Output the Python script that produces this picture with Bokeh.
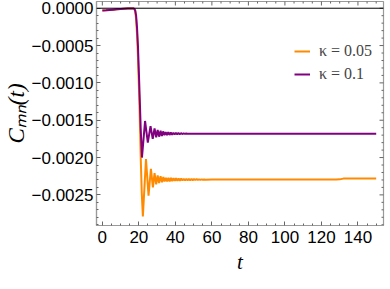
import math
from bokeh.plotting import figure
from bokeh.models import Legend, LegendItem, Span, FixedTicker, Range1d
from bokeh.embed import file_html
from bokeh.resources import INLINE

# kappa = 0.05 (orange)
t_a = [0, 2, 4, 6, 8, 10, 12, 14, 16, 17, 17.5, 18, 18.5, 19, 19.5, 20, 20.5, 21, 21.6, 22.2,
       23.9, 25.3, 26.6, 27.7, 28.6, 29.5, 30.3, 31.1, 31.9, 32.7, 33.4, 34.1, 34.8, 35.5, 36.2,
       36.9, 37.6, 38.3, 39.0, 39.7, 40.4, 41.1, 41.8, 42.5, 43.2, 43.9, 44.6, 45.3, 46.0, 46.7,
       47.4, 48.1, 48.8, 49.5, 50.2, 50.9, 51.6, 52.3, 53.0, 53.7, 54.4, 55.1, 55.8, 56.5,
       60, 128, 130, 132, 135, 150]
c_a = [-0.000030, -0.000027, -0.000023, -0.000019, -0.000015, -0.000011, -0.000008, -0.000005,
       -0.000003, -0.000003, -0.000010, -0.000040, -0.00015, -0.00035, -0.00065, -0.00103,
       -0.00148, -0.00198, -0.00248, -0.00279,
       -0.00202, -0.00251, -0.00215, -0.00240, -0.00221, -0.00236, -0.00224, -0.00234, -0.00225,
       -0.00233, -0.00226, -0.00232, -0.00227, -0.00232, -0.00227,
       -0.002320, -0.002272, -0.002316, -0.002275, -0.002313, -0.002278, -0.002311, -0.002280,
       -0.002309, -0.002282, -0.002307, -0.002284, -0.002305, -0.002286, -0.002304, -0.002287,
       -0.002303, -0.002288, -0.002302, -0.002289, -0.002301, -0.002290, -0.002300, -0.002291,
       -0.002299, -0.002292, -0.002298, -0.002293, -0.002297,
       -0.002295, -0.002295, -0.002292, -0.002282, -0.002280, -0.002282]

# kappa = 0.1 (purple)
t_b = [0, 2, 4, 6, 8, 10, 12, 14, 16, 17, 17.5, 18, 18.5, 19, 19.5, 20, 20.5, 21, 21.7,
       23.4, 24.9, 26.4, 27.6, 28.6, 29.5, 30.3, 31.1, 31.9, 32.6, 33.3, 34.0, 34.7, 35.4, 36.1,
       36.8, 37.5, 38.2, 38.9, 39.6, 40.3, 41.0, 41.7, 42.4, 43.1, 43.8, 44.5, 45.2, 45.9, 46.6,
       50, 150]
c_b = [-0.000030, -0.000027, -0.000023, -0.000019, -0.000015, -0.000011, -0.000008, -0.000005,
       -0.000003, -0.000003, -0.000008, -0.000030, -0.00010, -0.00026, -0.00050, -0.00085,
       -0.00122, -0.00160, -0.00200,
       -0.00151, -0.00180, -0.00158, -0.00175, -0.00161, -0.00173, -0.00163, -0.00172, -0.00164,
       -0.00171, -0.00165, -0.00170, -0.00166, -0.00170, -0.00166,
       -0.001697, -0.001665, -0.001694, -0.001668, -0.001691, -0.001670, -0.001689, -0.001672,
       -0.001687, -0.001674, -0.001685, -0.001676, -0.001683, -0.001678, -0.001681,
       -0.00168, -0.00168]

series_labels = ["κ = 0.05", "κ = 0.1"]
series_colors = ["#FF8A00", "#800080"]

x_ticks = [0, 20, 40, 60, 80, 100, 120, 140]
x_tick_labels = ["0", "20", "40", "60", "80", "100", "120", "140"]
y_ticks = [0.0, -0.0005, -0.0010, -0.0015, -0.0020, -0.0025]
y_tick_labels = ["0.0000", "\u22120.0005", "\u22120.0010", "\u22120.0015", "\u22120.0020", "\u22120.0025"]

x_minor = [i * 5 for i in range(0, 31) if i % 4 != 0]
y_minor = [-i * 0.0001 for i in range(0, 30) if i % 5 != 0]

X0, X1 = -3.2, 154.0
Y0, Y1 = -0.00291, 0.00009

FRAME = "#9a9a9a"
TICK = "#666666"

p = figure(frame_width=287, frame_height=224, x_range=Range1d(X0, X1), y_range=Range1d(Y0, Y1),
           output_backend="svg", toolbar_location=None,
           min_border_left=80, min_border_right=2, min_border_top=1, min_border_bottom=40)
p.grid.visible = False
p.outline_line_color = FRAME
p.outline_line_width = 1.2
p.background_fill_color = "white"

p.add_layout(Span(location=0, dimension="width", line_color="black", line_width=1))

r_a = p.line(t_a, c_a, line_color=series_colors[0], line_width=2)
r_b = p.line(t_b, c_b, line_color=series_colors[1], line_width=2)

# mirrored inward ticks on the top and right frame edges (half of each dash is clipped)
p.scatter(x_ticks, [Y1] * len(x_ticks), marker="dash", angle=math.pi / 2, size=8,
          line_color=TICK, line_width=1)
p.scatter(x_minor, [Y1] * len(x_minor), marker="dash", angle=math.pi / 2, size=4,
          line_color=TICK, line_width=1)
p.scatter([X1] * len(y_ticks), y_ticks, marker="dash", size=8, line_color=TICK, line_width=1)
p.scatter([X1] * len(y_minor), y_minor, marker="dash", size=4, line_color=TICK, line_width=1)

xt = FixedTicker(ticks=x_ticks, minor_ticks=x_minor)
yt = FixedTicker(ticks=y_ticks, minor_ticks=y_minor)

xa = p.xaxis[0]
ya = p.yaxis[0]
xa.ticker = xt
ya.ticker = yt
xa.major_label_overrides = dict(zip(x_ticks, x_tick_labels))
ya.major_label_overrides = dict(zip(y_ticks, y_tick_labels))
for ax in (xa, ya):
    ax.axis_line_color = FRAME
    ax.axis_line_width = 1.2
    ax.major_tick_line_color = TICK
    ax.minor_tick_line_color = TICK
    ax.major_tick_in = 4
    ax.major_tick_out = 0
    ax.minor_tick_in = 2
    ax.minor_tick_out = 0
    ax.major_label_text_font = "Liberation Sans"
    ax.major_label_text_font_size = "17px"
    ax.major_label_text_color = "black"
    ax.axis_label_text_font = "Liberation Serif"
    ax.axis_label_text_font_style = "italic"
    ax.axis_label_text_color = "black"
xa.axis_label_text_font_size = "21px"
ya.axis_label_text_font_size = "23px"
xa.major_label_standoff = 5
ya.major_label_standoff = 3
xa.axis_label = "t"
ya.axis_label = "C\u2098\u2099(t)"
xa.axis_label_standoff = 4
ya.axis_label_standoff = 0

legend = Legend(items=[LegendItem(label=series_labels[0], renderers=[r_a]),
                       LegendItem(label=series_labels[1], renderers=[r_b])],
                location=(198, 141), border_line_color=None, background_fill_alpha=0,
                label_text_font="Liberation Serif", label_text_font_size="16px",
                glyph_width=16, glyph_height=20, label_height=20, spacing=3,
                padding=0, margin=0, label_standoff=9)
p.add_layout(legend)

open("out.html", "w").write(file_html(p, INLINE))
